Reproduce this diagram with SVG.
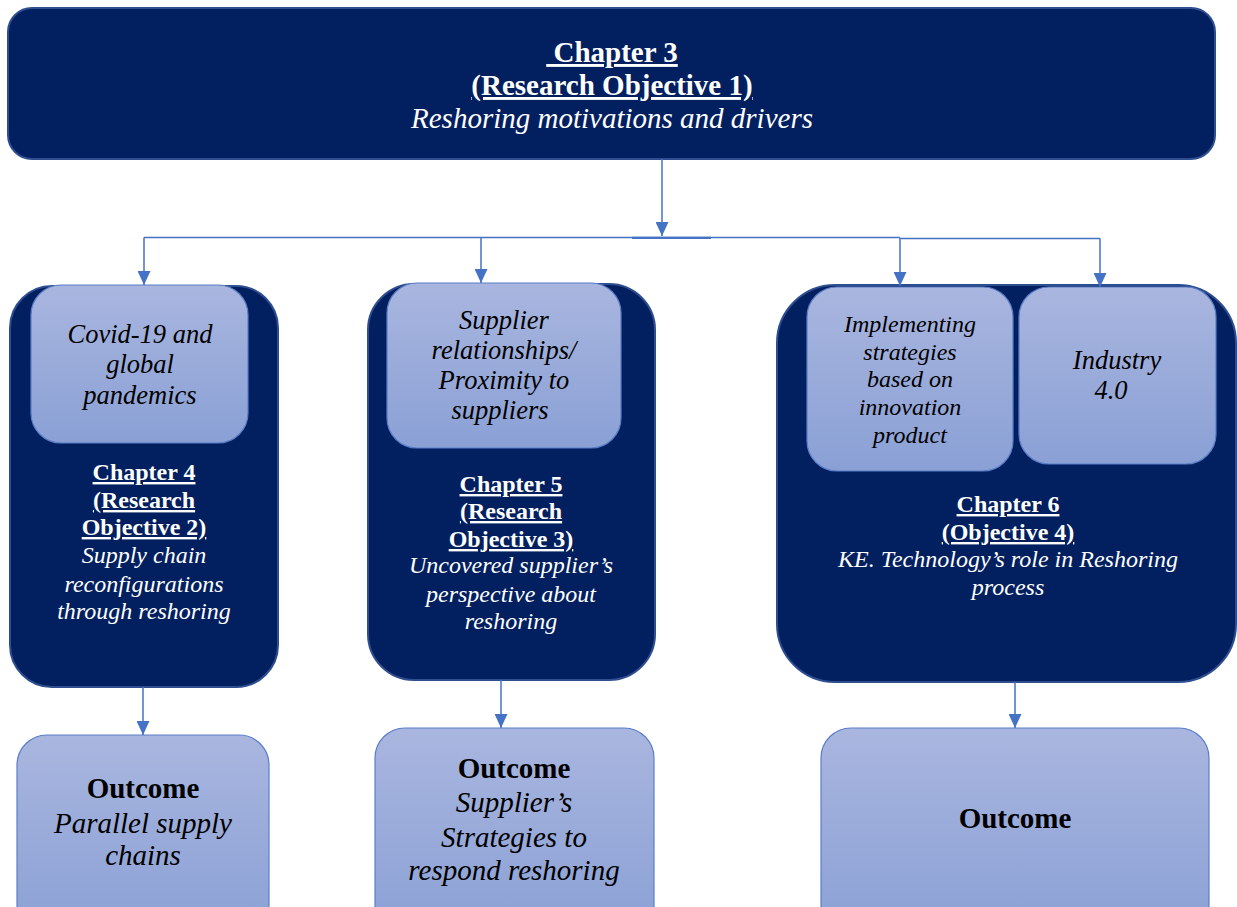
<svg xmlns="http://www.w3.org/2000/svg" width="1237" height="907" viewBox="0 0 1237 907">
<style>
  .dark{fill:#022060;stroke:#2f4e90;stroke-width:2}
  .light{fill:url(#lightFill);stroke:#5b7ec8;stroke-width:1.2}
  .conn{fill:none;stroke:#4472c4;stroke-width:1.5}
  text{font-family:"Liberation Serif","Times New Roman",serif;text-anchor:middle}
  .w{fill:#ffffff}
  .k{fill:#000000}
  .b{font-weight:bold}
  .i{font-style:italic}
  .u{text-decoration:underline}
  .t29{font-size:29px}
  .t24{font-size:24px}
  .t26{font-size:26.5px}
</style>
<defs>
  <linearGradient id="lightFill" x1="0" y1="0" x2="0" y2="1">
    <stop offset="0" stop-color="#a9b6df"/>
    <stop offset="1" stop-color="#8aa0d5"/>
  </linearGradient>
  <marker id="arrow" markerUnits="userSpaceOnUse" markerWidth="14" markerHeight="13" refX="14" refY="6.5" orient="auto">
    <path d="M0,0 L14,6.5 L0,13 z" fill="#4472c4"/>
  </marker>
</defs>

<!-- Chapter 3 -->
<g id="chapter3">
  <rect class="dark" x="8" y="8" width="1207" height="151" rx="24"/>
  <text class="w b u t29" x="612" y="62">&#160;Chapter 3</text>
  <text class="w b u t29" x="612" y="95">(Research Objective 1)</text>
  <text class="w i t29" x="612" y="128">Reshoring motivations and drivers</text>
</g>

<!-- Chapter 4 column -->
<g id="chapter4">
  <rect class="dark" x="10" y="286" width="268" height="401" rx="42"/>
  <text class="w b u t24" x="144" y="480">Chapter 4</text>
  <text class="w b u t24" x="144" y="508">(Research</text>
  <text class="w b u t24" x="144" y="535">Objective 2)</text>
  <text class="w i t24" x="144" y="563">Supply chain</text>
  <text class="w i t24" x="144" y="592">reconfigurations</text>
  <text class="w i t24" x="144" y="619">through reshoring</text>
</g>
<g id="covid">
  <rect class="light" x="31" y="285" width="217" height="158" rx="30"/>
  <text class="k i t26" x="140" y="343">Covid-19 and</text>
  <text class="k i t26" x="140" y="373">global</text>
  <text class="k i t26" x="140" y="404">pandemics</text>
</g>

<!-- Chapter 5 column -->
<g id="chapter5">
  <rect class="dark" x="368" y="284" width="287" height="396" rx="46"/>
  <text class="w b u t24" x="511" y="492">Chapter 5</text>
  <text class="w b u t24" x="511" y="519">(Research</text>
  <text class="w b u t24" x="511" y="547">Objective 3)</text>
  <text class="w i t24" x="511" y="573">Uncovered supplier’s</text>
  <text class="w i t24" x="511" y="602">perspective about</text>
  <text class="w i t24" x="511" y="629">reshoring</text>
</g>
<g id="suppliers">
  <rect class="light" x="387" y="283" width="234" height="165" rx="30"/>
  <text class="k i t26" x="504" y="329">Supplier</text>
  <text class="k i t26" x="504" y="359">relationships/</text>
  <text class="k i t26" x="504" y="389">Proximity to</text>
  <text class="k i t26" x="500" y="419">suppliers</text>
</g>

<!-- Chapter 6 column -->
<g id="chapter6">
  <rect class="dark" x="777" y="285" width="459" height="397" rx="58"/>
  <text class="w b u t24" x="1008" y="512">Chapter 6</text>
  <text class="w b u t24" x="1008" y="540">(Objective 4)</text>
  <text class="w i t24" x="1008" y="567">KE. Technology’s role in Reshoring</text>
  <text class="w i t24" x="1008" y="595">process</text>
</g>
<g id="innovation">
  <rect class="light" x="807" y="287" width="206" height="184" rx="30"/>
  <text class="k i t24" x="910" y="332">Implementing</text>
  <text class="k i t24" x="910" y="360">strategies</text>
  <text class="k i t24" x="910" y="387">based on</text>
  <text class="k i t24" x="910" y="415">innovation</text>
  <text class="k i t24" x="910" y="443">product</text>
</g>
<g id="industry">
  <rect class="light" x="1019" y="287" width="197" height="177" rx="30"/>
  <text class="k i t26" x="1117" y="369">Industry</text>
  <text class="k i t26" x="1111" y="399">4.0</text>
</g>

<!-- Outcomes -->
<g id="outcome1">
  <rect class="light" x="17" y="735" width="252" height="200" rx="30"/>
  <text class="k b t29" x="143" y="798">Outcome</text>
  <text class="k i t29" x="143" y="833">Parallel supply</text>
  <text class="k i t29" x="143" y="865">chains</text>
</g>
<g id="outcome2">
  <rect class="light" x="375" y="728" width="279" height="207" rx="30"/>
  <text class="k b t29" x="514" y="778">Outcome</text>
  <text class="k i t29" x="514" y="812">Supplier’s</text>
  <text class="k i t29" x="514" y="847">Strategies to</text>
  <text class="k i t29" x="514" y="880">respond reshoring</text>
</g>
<g id="outcome3">
  <rect class="light" x="821" y="728" width="388" height="207" rx="30"/>
  <text class="k b t29" x="1015" y="828">Outcome</text>
</g>

<!-- Connectors -->
<g id="connectors">
  <path class="conn" d="M662,159 V236" marker-end="url(#arrow)"/>
  <path class="conn" d="M144,237.5 H900"/>
  <path class="conn" d="M632,237.8 H711" style="stroke-width:2.2"/>
  <path class="conn" d="M900,238.5 H1100"/>
  <path class="conn" d="M144,237.5 V285" marker-end="url(#arrow)"/>
  <path class="conn" d="M481,237.5 V283" marker-end="url(#arrow)"/>
  <path class="conn" d="M900,238 V286" marker-end="url(#arrow)"/>
  <path class="conn" d="M1100,238.5 V287" marker-end="url(#arrow)"/>
  <path class="conn" d="M143,687 V735" marker-end="url(#arrow)"/>
  <path class="conn" d="M501,680 V728" marker-end="url(#arrow)"/>
  <path class="conn" d="M1015,682 V728" marker-end="url(#arrow)"/>
</g>
</svg>
